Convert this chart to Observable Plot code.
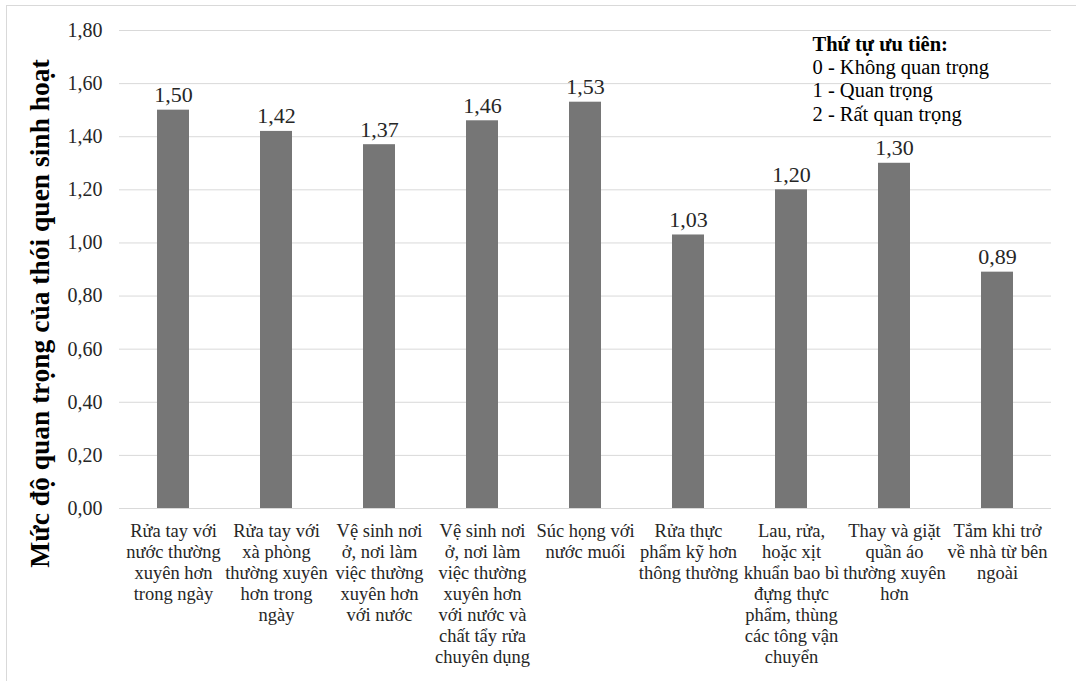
<!DOCTYPE html>
<html>
<head>
<meta charset="utf-8">
<script src="https://cdn.jsdelivr.net/npm/d3@7"></script>
<script src="https://cdn.jsdelivr.net/npm/@observablehq/plot@0.6"></script>
<style>
  html, body { margin: 0; padding: 0; background: #fff; overflow: hidden; }
  #wrap { position: relative; width: 1076px; height: 681px; overflow: hidden; }
  #frame { position: absolute; left: 6px; top: 5px; width: 1100px; height: 700px; border: 1px solid #d9d9d9; box-sizing: border-box; }
  #chart { position: absolute; left: 0; top: 0; }
  #chart svg, #chart svg text { font-family: 'Liberation Serif', 'Times New Roman', serif !important; }
</style>
</head>
<body>
<div id="wrap"><div id="frame"></div><div id="chart"></div></div>
<script>
const categories = [
  "Rửa tay với\nnước thường\nxuyên hơn\ntrong ngày",
  "Rửa tay với\nxà phòng\nthường xuyên\nhơn trong\nngày",
  "Vệ sinh nơi\nở, nơi làm\nviệc thường\nxuyên hơn\nvới nước",
  "Vệ sinh nơi\nở, nơi làm\nviệc thường\nxuyên hơn\nvới nước và\nchất tẩy rửa\nchuyên dụng",
  "Súc họng với\nnước muối",
  "Rửa thực\nphẩm kỹ hơn\nthông thường",
  "Lau, rửa,\nhoặc xịt\nkhuẩn bao bì\nđựng thực\nphẩm, thùng\ncác tông vận\nchuyển",
  "Thay và giặt\nquần áo\nthường xuyên\nhơn",
  "Tắm khi trở\nvề nhà từ bên\nngoài"
];
const values = [1.50, 1.42, 1.37, 1.46, 1.53, 1.03, 1.20, 1.30, 0.89];
const yTicks = [0, 0.2, 0.4, 0.6, 0.8, 1.0, 1.2, 1.4, 1.6, 1.8];
const yTitle = "Mức độ quan trọng của thói quen sinh hoạt";
const legendTitle = "Thứ tự ưu tiên:";
const legendItems = ["0 - Không quan trọng", "1 - Quan trọng", "2 - Rất quan trọng"];

const data = categories.map((c, i) => ({cat: c, value: values[i]}));
const fmt = v => d3.format(".2f")(v).replace(".", ",");
const FONT = "'Liberation Serif', 'Times New Roman', serif";

const chart = Plot.plot({
  width: 1076,
  height: 681,
  marginLeft: 119,
  marginRight: 25,
  marginTop: 30,
  marginBottom: 173,
  style: {fontFamily: FONT, color: "#262626", background: "transparent"},
  x: {domain: categories, paddingInner: 0.69, paddingOuter: 0.345},
  y: {domain: [0, 1.8]},
  marks: [
    Plot.gridY(yTicks, {stroke: "#d9d9d9", strokeOpacity: 1}),
    Plot.barY(data, {x: "cat", y: "value", fill: "#767676"}),
    Plot.ruleY([0], {stroke: "#d9d9d9"}),
    Plot.text(data, {x: "cat", y: "value", text: d => fmt(d.value), lineAnchor: "bottom", dy: -8, fontSize: 22, fontFamily: FONT, fill: "#262626"}),
    Plot.axisY(yTicks, {tickFormat: fmt, tickSize: 0, tickPadding: 17, fontSize: 20, fontFamily: FONT, label: null, fill: "#262626"}),
    Plot.axisX({tickSize: 0, tickPadding: 14, fontSize: 18.5, fontFamily: FONT, lineHeight: 1.135, label: null, fill: "#262626"}),
    Plot.text([yTitle], {frameAnchor: "left", textAnchor: "middle", rotate: -90, dx: -79, dy: 44, fontSize: 27.5, fontWeight: "bold", fontFamily: FONT, fill: "#000"}),
    Plot.text([legendTitle], {frameAnchor: "top-right", textAnchor: "start", lineAnchor: "middle", dx: -239, dy: 14, fontSize: 20.5, fontWeight: "bold", fontFamily: FONT, fill: "#000"}),
    Plot.text([legendItems.join("\n")], {frameAnchor: "top-right", textAnchor: "start", lineAnchor: "top", dx: -239, dy: 27, fontSize: 20.5, lineHeight: 1.135, fontFamily: FONT, fill: "#000"})
  ]
});
document.getElementById("chart").appendChild(chart);
</script>
</body>
</html>
